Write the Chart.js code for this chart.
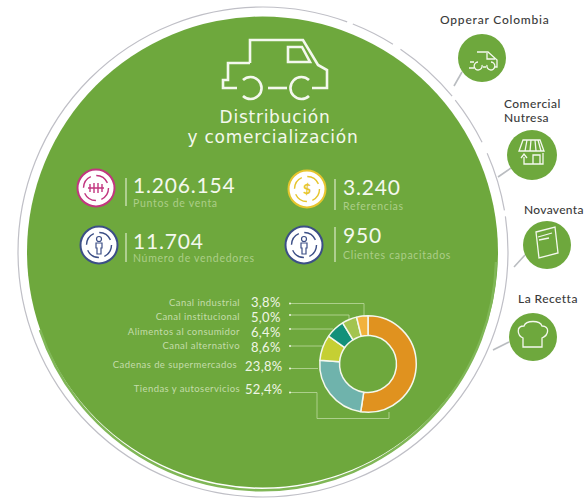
<!DOCTYPE html>
<html>
<head>
<meta charset="utf-8">
<script src="https://cdn.jsdelivr.net/npm/chart.js@4"></script>
<style>
  html, body { margin: 0; padding: 0; background: #fff; overflow: hidden; }
  #stage { position: relative; width: 585px; height: 499px; overflow: hidden; }
  #art { position: absolute; left: 0; top: 0; }
  #chartBox { position: absolute; left: 312px; top: 308px; width: 112px; height: 112px; }
  text { font-family: Lato, "Open Sans", sans-serif; }
</style>
</head>
<body>
<div id="stage">
  <svg id="art" width="585" height="499" xmlns="http://www.w3.org/2000/svg">
    <circle cx="263" cy="252" r="245" fill="none" stroke="#bfbfc6" stroke-width="1.2" stroke-dasharray="1240 6 45 9 70 5 50 12 60 6"/>
    <circle cx="262.5" cy="252" r="235.5" fill="#6ea83d"/>
    <path d="M496 262A234 234 0 0 1 40 330" fill="none" stroke="#80b757" stroke-width="2.5"/>

    <g fill="none" stroke="#f4f8ee" stroke-width="2.6">
      <path d="M250 63V40H303L318 65L327 70V88H312"/>
      <path d="M250 63H228V80H223V88H237"/>
      <path d="M268 88H287"/>
      <path d="M288 47H302L310 62H288Z"/>
      <path d="M243 80A11 11 0 1 1 243 96"/>
      <path d="M309 80A11 11 0 1 0 309 96"/>
    </g>

    <g id="circles"></g>
    <g id="labels"></g>
  </svg>
  <div id="chartBox"><canvas id="donut" width="112" height="112"></canvas></div>
</div>
<script>
const categories = ['Tiendas y autoservicios', 'Cadenas de supermercados', 'Canal alternativo', 'Alimentos al consumidor', 'Canal institucional', 'Canal industrial'];
const shares = [52.4, 23.8, 8.6, 6.4, 5.0, 3.8];
const sliceColors = ['#e0921f', '#6fb3ac', '#c5cf33', '#12917a', '#a3c44f', '#f2b23c'];

const statValues = ['1.206.154', '3.240', '11.704', '950'];
const statNames = ['Puntos de venta', 'Referencias', 'Número de vendedores', 'Clientes capacitados'];
const brands = ['Opperar Colombia', 'Comercial', 'Nutresa', 'Novaventa', 'La Recetta'];

const SVG_NS = 'http://www.w3.org/2000/svg';
function add(parent, tag, attrs, content) {
  const el = document.createElementNS(SVG_NS, tag);
  for (const k in attrs) el.setAttribute(k, attrs[k]);
  if (content !== undefined) el.textContent = content;
  document.getElementById(parent).appendChild(el);
  return el;
}

// title
const titleStyle = {'text-anchor': 'middle', 'font-size': 17, fill: '#f4f8ee', 'letter-spacing': 0.75, style: 'font-family:"DejaVu Sans"'};
add('labels', 'text', {x: 275, y: 123, ...titleStyle}, 'Distribución');
add('labels', 'text', {x: 273, y: 143, ...titleStyle}, 'y comercialización');

// stat blocks
const statPos = [[133, 193, 207], [343, 195, 210], [133, 249, 262], [343, 243, 259]];
const statBars = [[126, 178, 206], [335, 179, 210], [126, 233, 262], [335, 227, 262]];
const statIcons = [[96, 188, '#c2367f'], [307, 189, '#e6c52e'], [99, 245, '#3c4f86'], [304, 245, '#3c4f86']];
statValues.forEach((v, i) => {
  const [cx, cy, col] = statIcons[i];
  add('circles', 'circle', {cx, cy, r: 18.5, fill: '#fff', stroke: col, 'stroke-width': 2});
  add('circles', 'circle', {cx, cy, r: 12.5, fill: 'none', stroke: col, 'stroke-width': 1.4, 'stroke-dasharray': '14 5.6'});
  if (i === 1) {
    add('labels', 'text', {x: cx, y: cy + 5, 'text-anchor': 'middle', 'font-size': 14, 'font-weight': 700, fill: col}, '$');
  } else if (i === 0) {
    add('circles', 'path', {d: `M${cx - 6} ${cy - 4}v8M${cx - 2} ${cy - 5}v10M${cx + 2} ${cy - 5}v10M${cx + 6} ${cy - 4}v8M${cx - 8} ${cy}h16`, stroke: col, 'stroke-width': 1.4, fill: 'none'});
  } else {
    add('circles', 'circle', {cx, cy: cy - 6, r: 2.5, fill: 'none', stroke: col, 'stroke-width': 1.2});
    add('circles', 'path', {d: `M${cx - 3} ${cy - 2}h6v5h-1v6h-4v-6h-1z`, stroke: col, 'stroke-width': 1.2, fill: 'none'});
  }
  const [bx, y1, y2] = statBars[i];
  add('circles', 'path', {d: `M${bx} ${y1}V${y2}`, stroke: '#dbe9c8', 'stroke-width': 1.2, fill: 'none'});
  const [x, yv, yn] = statPos[i];
  add('labels', 'text', {x, y: yv, 'font-size': 21, fill: '#f4f8ee', 'letter-spacing': 0.8}, v);
  add('labels', 'text', {x, y: yn, 'font-size': 10.5, fill: '#acce88', 'letter-spacing': 0.7}, statNames[i]);
});

// donut labels, listed top to bottom like the picture
const rowOrder = [5, 4, 3, 2, 1, 0];
const rowNameY = [306, 320, 335, 349, 368, 392];
const rowValueY = [307, 322, 337, 352, 371, 394];
const rowNameX = [240, 240, 240, 240, 237, 240];
const rowValueX = [251, 251, 251, 251, 245, 245];
const leaders = [
  'M290 303.5H364V317',
  'M290 315H349V322',
  'M290 329H333',
  'M290 346H323',
  'M290 368.5H318',
  'M290 392.5H317V418.5H389V412'
];
rowOrder.forEach((c, i) => {
  add('labels', 'text', {x: rowNameX[i], y: rowNameY[i], 'text-anchor': 'end', 'font-size': 9.5, fill: '#c4dcaa', 'letter-spacing': 0.42}, categories[c]);
  add('labels', 'text', {x: rowValueX[i], y: rowValueY[i], 'font-size': 13, fill: '#f0f6e6', 'letter-spacing': 0.3}, shares[c].toFixed(1).replace('.', ',') + '%');
  add('circles', 'path', {d: leaders[i], stroke: '#bcd9a0', 'stroke-width': 0.8, fill: 'none'});
  add('circles', 'circle', {cx: 290, cy: parseFloat(leaders[i].split(' ')[1]), r: 1, fill: '#f0f6e6'});
});

// satellite brands
const sats = [[482, 58, 24, 'M462 72L454 86'], [532, 155, 25, 'M511 168L498 177'], [547, 245, 24, 'M525 255L514 267'], [533, 337, 24, 'M509 342L493 350']];
sats.forEach(([cx, cy, r, line]) => {
  add('circles', 'path', {d: line, stroke: '#b9bcc0', 'stroke-width': 1.6, fill: 'none'});
  add('circles', 'circle', {cx, cy, r, fill: '#6ea83d'});
});
const satIcons = [
  'M477 52H488L497 60V67H494M483 67H486M470 62H474M469 68H474M482 65A4 4 0 1 1 478 62M487 65A4 4 0 1 0 491 62M487 53V59H495',
  'M523 140H540L544 151H519ZM527 140L525 151M531 140L530 151M535 140L536 151M538 140L541 151M543 153V164H524V157M521 158L524 154L527 158M533 164V155H540V164',
  'M536 232L555 227L558 253L539 258ZM538 237L552 233M539 240L549 238',
  'M523 347H542V338C549 335 550 326 542 326C540 320 526 320 524 326C516 326 517 335 523 338Z'
];
satIcons.forEach(d => add('circles', 'path', {d, stroke: '#f4f8ee', 'stroke-width': 1.3, fill: 'none'}));

const brandPos = [[440, 24], [504, 108], [504, 122], [524, 214], [518, 303]];
const brandSpacing = [0.8, 0.45, 0.45, 0.3, 0.45];
brands.forEach((b, i) => {
  add('labels', 'text', {x: brandPos[i][0], y: brandPos[i][1], 'font-size': 12, 'font-weight': 500, fill: '#3a3a3a', 'letter-spacing': brandSpacing[i]}, b);
});

new Chart(document.getElementById('donut'), {
  type: 'doughnut',
  data: {
    labels: categories,
    datasets: [{
      data: shares,
      backgroundColor: sliceColors,
      borderColor: '#f4f8ee',
      borderWidth: 1.5
    }]
  },
  options: {
    responsive: false,
    animation: false,
    cutout: '59%',
    layout: { padding: 7 },
    plugins: { legend: { display: false }, tooltip: { enabled: false } }
  }
});
</script>
</body>
</html>
